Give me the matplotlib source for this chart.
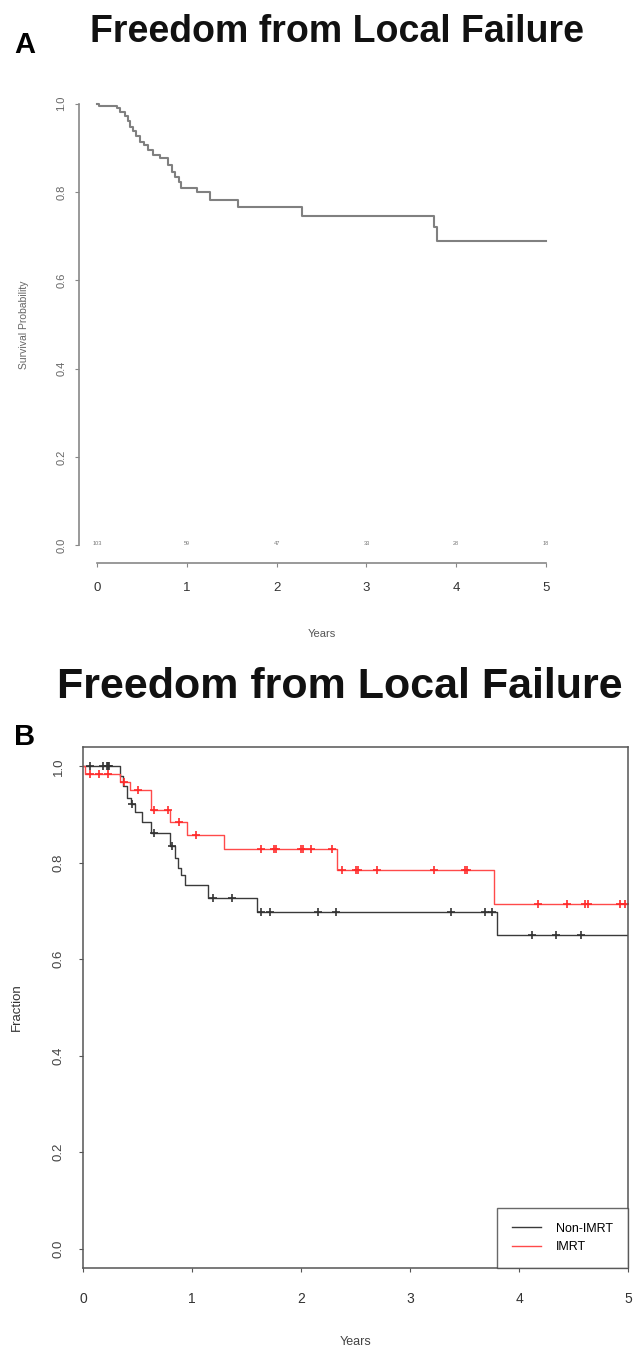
import numpy as np
import matplotlib.pyplot as plt

plt.rcParams['font.family'] = ['Liberation Sans', 'DejaVu Sans']

W, H = 637, 1351

# ---- panel A: all patients
a_time = [0.0, 0.02, 0.22, 0.26, 0.31, 0.35, 0.37, 0.40, 0.44, 0.48, 0.52, 0.57,
          0.62, 0.70, 0.79, 0.83, 0.87, 0.91, 0.94, 1.11, 1.26, 1.57, 2.28, 3.75, 3.79]
a_surv = [1.0, 0.995, 0.99, 0.982, 0.971, 0.96, 0.948, 0.937, 0.926, 0.914, 0.907, 0.895,
          0.884, 0.876, 0.861, 0.846, 0.835, 0.823, 0.810, 0.800, 0.781, 0.766, 0.745, 0.72, 0.69]
a_risk = ["103", "59", "47", "33", "28", "18"]

# ---- panel B: Non-IMRT vs IMRT
non_time = [0.0, 0.34, 0.37, 0.40, 0.44, 0.48, 0.54, 0.62, 0.80, 0.84, 0.87, 0.90, 0.94, 1.15, 1.60, 3.80]
non_surv = [1.0, 0.98, 0.96, 0.935, 0.922, 0.905, 0.885, 0.862, 0.835, 0.81, 0.79, 0.775, 0.753, 0.727, 0.697, 0.651]
non_cens = [0.06, 0.18, 0.22, 0.23, 0.24, 0.45, 0.65, 0.82, 1.19, 1.37, 1.63, 1.72, 2.16, 2.32,
            3.38, 3.69, 3.75, 4.12, 4.34, 4.57]

imrt_time = [0.0, 0.02, 0.34, 0.43, 0.62, 0.80, 0.95, 1.29, 2.33, 3.77]
imrt_surv = [1.0, 0.983, 0.967, 0.95, 0.909, 0.884, 0.857, 0.829, 0.785, 0.714]
imrt_cens = [0.06, 0.15, 0.23, 0.38, 0.50, 0.65, 0.78, 0.88, 1.04, 1.63, 1.75, 1.77, 2.0, 2.02,
             2.09, 2.28, 2.38, 2.50, 2.52, 2.70, 3.22, 3.50, 3.52, 4.17, 4.44, 4.61, 4.63, 4.93, 4.97]

xticks = [0, 1, 2, 3, 4, 5]
yticks = [0.0, 0.2, 0.4, 0.6, 0.8, 1.0]
ylabels = ["0.0", "0.2", "0.4", "0.6", "0.8", "1.0"]


def box(l, r, t, b):
    return [l / W, 1 - b / H, (r - l) / W, (b - t) / H]


def at(times, surv, pts):
    idx = np.searchsorted(times, pts, side='right') - 1
    return np.array(surv)[idx]


fig = plt.figure(figsize=(W / 100, H / 100), dpi=100)

# ---------------- A
fig.text(14 / W, 1 - 53 / H, "A", fontsize=21, fontweight='bold')
fig.text(337 / W, 1 - 42 / H, "Freedom from Local Failure", fontsize=27,
         fontweight='bold', ha='center', va='baseline', color='#111')

ax = fig.add_axes(box(79, 564, 86, 563))
ax.step(a_time + [5.0], a_surv + [a_surv[-1]], where='post', color='#808080', lw=1.5)
for x, n in zip(xticks, a_risk):
    ax.text(x, 0.005, n, fontsize=4, ha='center', va='center', color='#777')
ax.set_xlim(-0.2, 5.2)
ax.set_ylim(-0.04, 1.04)
for s in ['top', 'right']:
    ax.spines[s].set_visible(False)
ax.spines['left'].set_bounds(0, 1)
ax.spines['bottom'].set_bounds(0, 5)
for s in ['left', 'bottom']:
    ax.spines[s].set_color('#888')
    ax.spines[s].set_linewidth(1.2)
ax.set_xticks(xticks)
ax.set_xticklabels([str(x) for x in xticks], fontsize=9.5, color='#333')
ax.set_yticks(yticks)
ax.set_yticklabels(ylabels, fontsize=8, color='#666', rotation=90, va='center')
ax.tick_params(axis='both', length=3, width=0.8, color='#888')
ax.tick_params(axis='y', pad=6)
ax.tick_params(axis='x', pad=11)
ax.set_xlabel("Years", fontsize=8, color='#555', labelpad=25)
ax.set_ylabel("Survival Probability", fontsize=7.5, color='#666', labelpad=20)

# ---------------- B
fig.text(14 / W, 1 - 745 / H, "B", fontsize=21, fontweight='bold')
fig.text(340 / W, 1 - 698 / H, "Freedom from Local Failure", fontsize=31,
         fontweight='bold', ha='center', va='baseline', color='#111')

bx = fig.add_axes(box(83, 628, 747, 1268))
bx.step(non_time + [5.0], non_surv + [non_surv[-1]], where='post', color='#3a3a3a', lw=1.0,
        label="Non-IMRT")
bx.step(imrt_time + [5.0], imrt_surv + [imrt_surv[-1]], where='post', color='#ff4a4a', lw=1.0,
        label="IMRT")
bx.plot(non_cens, at(non_time, non_surv, non_cens), '+', color='#333', ms=5.5, mew=1.2)
bx.plot(imrt_cens, at(imrt_time, imrt_surv, imrt_cens), '+', color='#ff2a2a', ms=5.5, mew=1.2)
bx.set_xlim(0, 5)
bx.set_ylim(-0.04, 1.04)
for s in bx.spines.values():
    s.set_color('#555')
    s.set_linewidth(1.1)
bx.set_xticks(xticks)
bx.set_xticklabels([str(x) for x in xticks], fontsize=10, color='#333')
bx.set_yticks(yticks)
bx.set_yticklabels(ylabels, fontsize=9.5, color='#444', rotation=90, va='center')
bx.tick_params(axis='both', length=3, width=0.8, color='#555')
bx.tick_params(axis='y', pad=10)
bx.tick_params(axis='x', pad=14)
bx.set_xlabel("Years", fontsize=9, color='#444', labelpad=22)
bx.set_ylabel("Fraction", fontsize=9.5, color='#333', labelpad=22)
leg = bx.legend(loc='lower right', fontsize=9, frameon=True, fancybox=False,
                edgecolor='#444', borderaxespad=0, handlelength=2.3, handletextpad=1.2,
                labelspacing=0.5, borderpad=1.2)
leg.get_frame().set_linewidth(1.0)

fig.savefig("out.png", dpi=100)
